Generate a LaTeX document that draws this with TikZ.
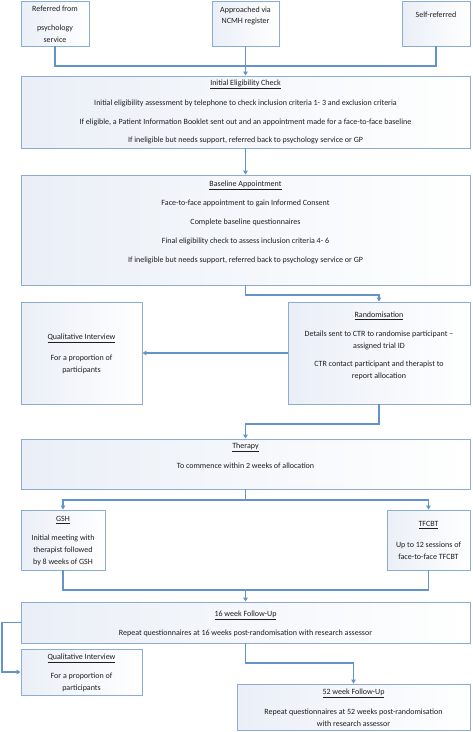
\documentclass[tikz,border=0pt]{standalone}
\usepackage{fontspec}
\setmainfont{Carlito}
\usetikzlibrary{arrows.meta,positioning}
\definecolor{bordc}{RGB}{140,172,212}
\definecolor{linec}{RGB}{100,146,203}
\definecolor{fillc}{RGB}{234,239,247}
\definecolor{txtc}{RGB}{30,30,30}
\tikzset{
  box/.style={draw=bordc, line width=0.9pt, left color=fillc, right color=white, minimum width=#1, inner sep=0pt, rectangle},
  lbl/.style={font=\fontsize{8}{11.8}\selectfont, text=txtc, align=center, inner sep=0pt},
  conn/.style={draw=linec, line width=1.3pt},
  arr/.style={conn, -{Triangle[width=4.5pt,length=4pt]}},
}
\begin{document}
\begin{tikzpicture}[x=1pt,y=-1pt]
\useasboundingbox (0,0) rectangle (472,732);
% boxes
\node[box=68pt, minimum height=45pt] (ref) at (55,23.5) {};
\node[box=67pt, minimum height=45pt] (appr) at (245.5,23.5) {};
\node[box=68pt, minimum height=45pt] (self) at (436,23.5) {};
\node[box=449pt, minimum height=72pt] (iec) at (245.5,112) {};
\node[box=449pt, minimum height=110pt] (base) at (245.5,230) {};
\node[box=182pt, minimum height=102pt] (rand) at (379,353) {};
\node[box=121pt, minimum height=102pt] (qual1) at (81.5,353) {};
\node[box=449pt, minimum height=50pt] (ther) at (245.5,464) {};
\node[box=84pt, minimum height=60pt] (gsh) at (63,540) {};
\node[box=83pt, minimum height=60pt] (tfcbt) at (428.5,540) {};
\node[box=449pt, minimum height=41pt] (fu16) at (245.5,622.5) {};
\node[box=121pt, minimum height=46pt] (qual2) at (81.5,672) {};
\node[box=233pt, minimum height=46pt] (fu52) at (353.5,707) {};
% texts
\node[lbl] (t-ref1) at (55,9) {Referred from};
\node[lbl] (t-ref2) at (55,33.5) {psychology\\service};
\node[lbl] (t-appr) at (245.5,16) {Approached via\\NCMH register};
\node[lbl] (t-self) at (436,15) {Self-referred};
\node[lbl] (t-iec0) at (245.5,84) {\underline{Initial Eligibility Check}};
\node[lbl] (t-iec1) at (245.5,103) {Initial eligibility assessment by telephone to check inclusion criteria 1- 3 and exclusion criteria};
\node[lbl] (t-iec2) at (245.5,122) {If eligible, a Patient Information Booklet sent out and an appointment made for a face-to-face baseline};
\node[lbl] (t-iec3) at (245.5,140) {If ineligible but needs support, referred back to psychology service or GP};
\node[lbl] (t-b0) at (245.5,185) {\underline{Baseline Appointment}};
\node[lbl] (t-b1) at (245.5,203) {Face-to-face appointment to gain Informed Consent};
\node[lbl] (t-b2) at (245.5,222) {Complete baseline questionnaires};
\node[lbl] (t-b3) at (245.5,241) {Final eligibility check to assess inclusion criteria 4- 6};
\node[lbl] (t-b4) at (245.5,260) {If ineligible but needs support, referred back to psychology service or GP};
\node[lbl] (t-r0) at (379,316) {\underline{Randomisation}};
\node[lbl] (t-r1) at (379,340.5) {Details sent to CTR to randomise participant --\\assigned trial ID};
\node[lbl] (t-r2) at (379,370) {CTR contact participant and therapist to\\report allocation};
\node[lbl] (t-q10) at (81.5,338) {\underline{Qualitative Interview}};
\node[lbl] (t-q11) at (81.5,364) {For a proportion of\\participants};
\node[lbl] (t-t0) at (245.5,447) {\underline{Therapy}};
\node[lbl] (t-t1) at (245.5,466) {To commence within 2 weeks of allocation};
\node[lbl] (t-g0) at (63,520) {\underline{GSH}};
\node[lbl] (t-g1) at (63,550.5) {Initial meeting with\\therapist followed\\by 8 weeks of GSH};
\node[lbl] (t-c0) at (428.5,525) {\underline{TFCBT}};
\node[lbl] (t-c1) at (428.5,551) {Up to 12 sessions of\\face-to-face TFCBT};
\node[lbl] (t-f0) at (245.5,615) {\underline{16 week Follow-Up}};
\node[lbl] (t-f1) at (245.5,633) {Repeat questionnaires at 16 weeks post-randomisation with research assessor};
\node[lbl] (t-q20) at (81.5,658) {\underline{Qualitative Interview}};
\node[lbl] (t-q21) at (81.5,682.5) {For a proportion of\\participants};
\node[lbl] (t-s0) at (353.5,693) {\underline{52 week Follow-Up}};
\node[lbl] (t-s1) at (353.5,717.5) {Repeat questionnaires at 52 weeks post-randomisation\\with research assessor};
% junctions
\coordinate (j1) at (245.5,66);
\coordinate (j2) at (245.5,295);
\coordinate (j3) at (379,424);
\coordinate (j4) at (245.5,500);
\coordinate (j5) at (245.5,590);
\coordinate (j6) at (2,622.5);
\coordinate (j7) at (245.5,663);
% connectors
\draw[conn] (ref.south) |- (j1);
\draw[conn] (self.south) |- (j1);
\draw[arr] (appr.south) -- (iec.north);
\draw[arr] (iec.south) -- (base.north);
\draw[arr] (base.south) -- (j2) -| (rand.north);
\draw[arr] (rand.west) -- (qual1.east);
\draw[arr] (rand.south) -- (j3) -| (ther.north);
\draw[conn] (ther.south) -- (j4);
\draw[arr] (j4) -| (gsh.north);
\draw[arr] (j4) -| (tfcbt.north);
\draw[conn] (gsh.south) |- (j5);
\draw[conn] (tfcbt.south) |- (j5);
\draw[arr] (j5) -- (fu16.north);
\draw[arr] (fu16.west) -- (j6) |- (qual2.west);
\draw[arr] (fu16.south) -- (j7) -| (fu52.north);
\end{tikzpicture}
\end{document}
